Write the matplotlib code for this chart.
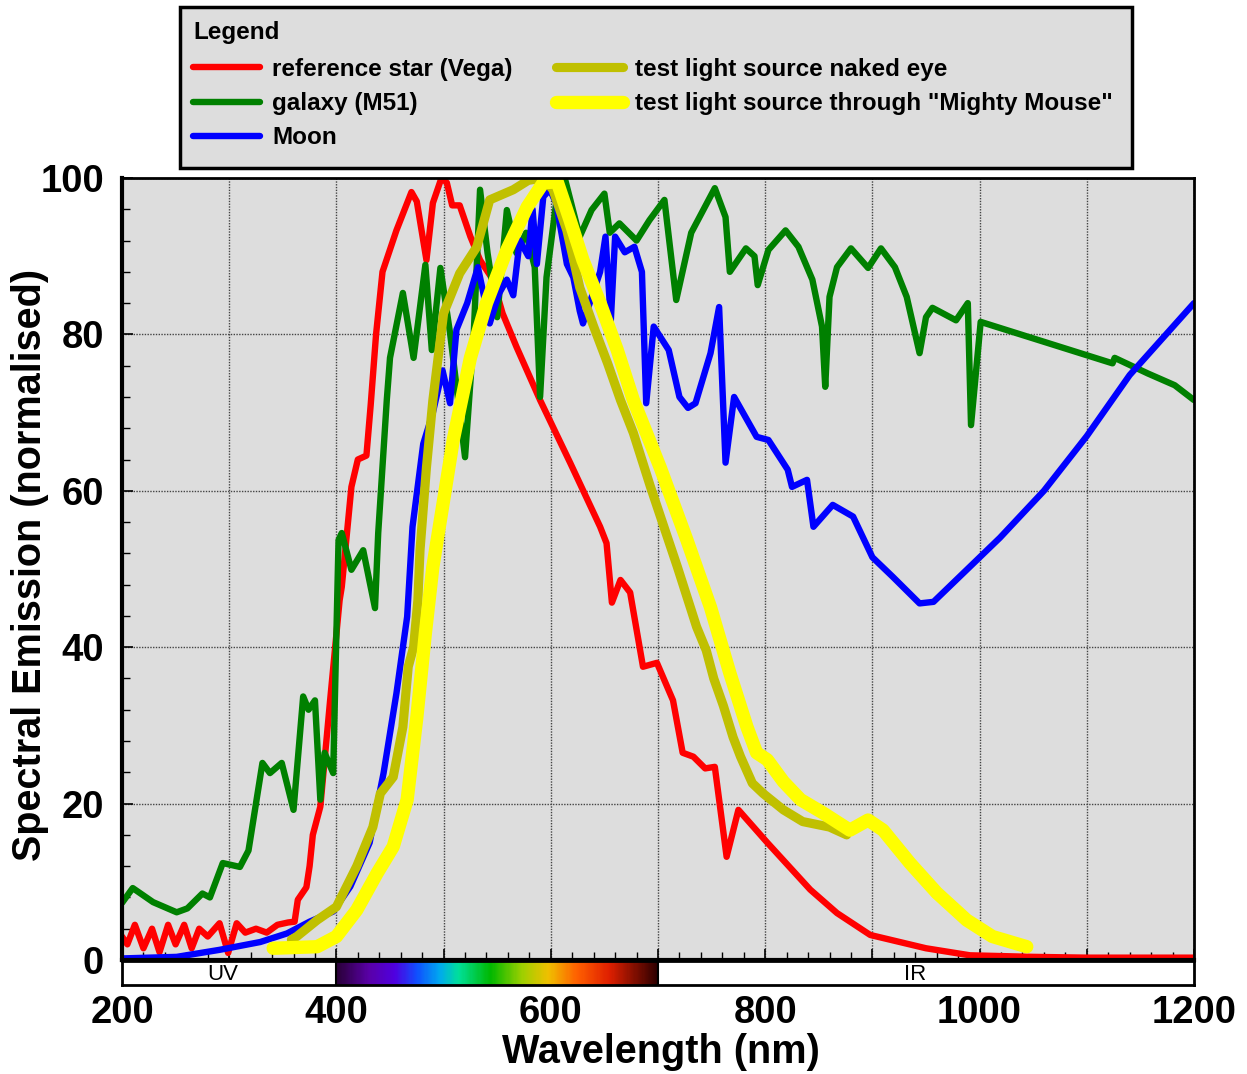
import numpy as np
import matplotlib
matplotlib.use('Agg')
import matplotlib.pyplot as plt
from matplotlib.colors import LinearSegmentedColormap
from matplotlib.patches import Rectangle
from matplotlib.ticker import MultipleLocator

plt.rcParams['font.family'] = ['Liberation Sans', 'DejaVu Sans']
plt.rcParams['font.weight'] = 'bold'

# ---- data (wavelength in nm, emission normalised to 100) ----
vega_wl = [200, 205, 212, 220, 228, 235, 243, 250, 258, 265, 272, 280, 291, 299, 307, 315,
           325, 335, 345, 355, 361, 364, 372, 375, 378, 385, 394, 403, 405, 414, 420, 428,
           432, 437, 443, 456, 470, 475, 484, 490, 498, 503, 508, 515, 525, 534, 546, 555,
           568, 590, 618, 646, 652, 657, 665, 674, 686, 699, 714, 723, 733, 744, 753, 764,
           775, 802, 842, 867, 898, 950, 991, 1050, 1100, 1200]
vega_val = [3, 2, 4.5, 1.5, 4, 1, 4.5, 2, 4.5, 1.5, 4, 3, 4.7, 0.9, 4.7, 3.5,
            4, 3.5, 4.5, 4.8, 4.9, 7.7, 9.3, 12, 16, 19.6, 33, 46, 47.7, 60.5, 64, 64.5,
            71, 80, 88, 93.3, 98.2, 97, 89.5, 96.8, 100, 99.4, 96.5, 96.5, 92.5, 89.5, 87, 82.7,
            78.4, 71.6, 63.6, 55.4, 53.3, 45.7, 48.6, 47, 37.5, 38, 33.2, 26.5, 26, 24.5, 24.7, 13.2,
            19.2, 15, 9, 6, 3.2, 1.5, 0.6, 0.4, 0.3, 0.3]

m51_wl = [200, 210, 229, 251, 261, 275, 282, 294, 310, 318, 331, 338, 349, 360, 369, 374,
          380, 385, 389, 397, 402, 405, 414, 425, 436, 439, 447, 450, 462, 472, 483, 489,
          497, 506, 520, 528, 534, 541, 550, 559, 568, 577, 585, 590, 596, 605, 613, 627,
          638, 650, 655, 664, 680, 692, 706, 717, 731, 753, 763, 767, 782, 790, 793, 803,
          819, 831, 844, 853, 856, 860, 867, 880, 896, 908, 921, 932, 944, 950, 956, 978,
          989, 992, 1001, 1124, 1126, 1157, 1182, 1200]
m51_val = [7.3, 9.2, 7.4, 6.1, 6.6, 8.5, 8, 12.4, 11.9, 14, 25.2, 23.9, 25.2, 19.2, 33.7, 32,
           33.2, 20.5, 26.5, 23.9, 53.7, 54.6, 49.9, 52.4, 45, 54.6, 71.6, 77, 85.3, 77, 88.9, 78,
           88.5, 80.2, 64.3, 79.7, 98.5, 90.4, 82.2, 95.9, 90.4, 93, 88.6, 72, 87.3, 96.8, 100, 92.5,
           95.9, 98, 93, 94.2, 92, 94.6, 97.2, 84.4, 93, 98.7, 95, 88, 91, 90, 86.3, 90.8,
           93.3, 91.2, 87, 81, 73.3, 84.8, 88.6, 91, 88.5, 91, 88.6, 84.8, 77.6, 82.2, 83.4, 81.8,
           84, 68.4, 81.6, 76.3, 77, 75, 73.5, 71.6]

moon_wl = [200, 251, 291, 329, 354, 375, 397, 413, 431, 444, 456, 466, 471, 481, 490, 499,
           506, 512, 522, 532, 543, 552, 559, 565, 571, 579, 583, 587, 593, 599, 605, 615,
           621, 627, 630, 646, 651, 656, 660, 669, 678, 685, 689, 696, 710, 720, 728, 735,
           749, 757, 763, 771, 792, 803, 821, 825, 839, 845, 863, 882, 900, 919, 944, 957,
           988, 1019, 1060, 1100, 1140, 1200]
moon_val = [0.2, 0.4, 1.3, 2.3, 3.4, 4.9, 6.2, 9.4, 15, 23.9, 34.1, 43.9, 55.4, 66, 70, 75.4,
            71.2, 80.6, 84, 88.6, 81.4, 85.3, 87, 85, 92, 90, 96, 89, 97.6, 98.5, 96.8, 89,
            87.3, 83, 81.4, 88, 92.5, 81.8, 92.5, 90.5, 91.2, 88, 71.2, 81, 78, 72, 70.6, 71.2,
            77.6, 83.5, 63.6, 72, 66.9, 66.5, 62.7, 60.5, 61.4, 55.4, 58.2, 56.7, 51.5, 49, 45.6, 45.8,
            49.9, 54, 60, 67, 74.8, 84]

naked_wl = [358, 363, 382, 400, 419, 434, 441, 453, 462, 467, 472, 476, 478, 484, 490, 500,
            515, 531, 543, 565, 579, 593, 602, 615, 627, 640, 653, 665, 677, 693, 718, 736,
            745, 752, 761, 770, 777, 788, 798, 817, 835, 860, 876]
naked_val = [2.6, 3, 5.1, 6.8, 12, 17, 21.3, 23.4, 29.8, 37.5, 40, 46, 52.4, 63, 71.6, 82.7,
             87.8, 91.2, 97.2, 98.5, 99.7, 100, 98.5, 93.3, 86, 81, 76.3, 71.6, 67.4, 60.5, 50.3, 42.6,
             39.6, 36, 32.5, 28.5, 26, 22.6, 21.3, 19.2, 17.7, 17, 16]

mouse_wl = [341, 382, 400, 419, 438, 453, 466, 475, 483, 490, 500, 509, 525, 540, 559, 578,
            593, 606, 618, 630, 646, 662, 677, 702, 727, 749, 767, 783, 792, 802, 817, 833,
            854, 879, 896, 910, 935, 960, 988, 1012, 1044]
mouse_val = [1.5, 1.7, 3, 6.4, 11.1, 14.5, 20.5, 31, 41.8, 50.3, 58.8, 66.5, 77, 84, 90.8, 96.3,
             99.4, 99.5, 94.6, 89.5, 84, 78, 71.6, 63, 53.7, 45.1, 36.7, 29.8, 26.5, 25.6, 22.8, 20.5,
             18.8, 16.6, 17.9, 16.6, 12.4, 8.6, 5.1, 3, 1.7]

labels = ['reference star (Vega)', 'galaxy (M51)', 'Moon',
          'test light source naked eye', 'test light source through "Mighty Mouse"']

fig = plt.figure(figsize=(12.47, 10.74), dpi=100)
ax = fig.add_axes([122 / 1247, 114 / 1074, 1072 / 1247, 782 / 1074])

series = [
    (vega_wl, vega_val, '#ff0000', 4.6),
    (m51_wl, m51_val, '#008000', 4.6),
    (moon_wl, moon_val, '#0000ff', 4.6),
    (naked_wl, naked_val, '#c0c000', 6.6),
    (mouse_wl, mouse_val, '#ffff00', 9.6),
]
for (wl, val, col, lw), lab in zip(series, labels):
    ax.plot(wl, val, color=col, lw=lw, label=lab,
            solid_capstyle='round', solid_joinstyle='round')

ax.set_xlim(200, 1200)
ax.set_ylim(0, 100)
ax.set_facecolor('#dddddd')

xt = np.arange(200, 1201, 100)
ax.set_xticks(xt)
ax.set_xticklabels([str(v) if v % 200 == 0 else '' for v in xt])
ax.xaxis.set_minor_locator(MultipleLocator(20))
ax.yaxis.set_major_locator(MultipleLocator(20))
ax.yaxis.set_minor_locator(MultipleLocator(4))
ax.grid(True, which='major', color='#444444', linestyle=(0, (1, 1)), linewidth=1)
ax.tick_params(which='both', direction='in', top=False, right=False, color='black')
ax.tick_params(which='major', length=8, width=1.2, labelsize=27.5)
ax.tick_params(which='minor', length=6, width=1)
ax.tick_params(axis='x', pad=25)
ax.tick_params(axis='y', pad=13)
for s in ax.spines.values():
    s.set_linewidth(2)
ax.spines['left'].set_linewidth(3)
ax.spines['bottom'].set_linewidth(3)

fig.text(661 / 1247, 1 - 1052 / 1074, 'Wavelength (nm)', fontsize=28.5,
         ha='center', va='center')
fig.text(30 / 1247, 1 - 565 / 1074, 'Spectral Emission (normalised)', fontsize=28.5,
         ha='center', va='center', rotation=90)

# visible spectrum strip under the axis
spec_cmap = LinearSegmentedColormap.from_list('spec', [
    (0.00, '#2a0038'), (0.10, '#5a00a8'), (0.18, '#5000e0'), (0.25, '#1050ff'),
    (0.32, '#00a8f0'), (0.38, '#00e09a'), (0.48, '#00b800'), (0.58, '#a0d000'),
    (0.66, '#f0c000'), (0.75, '#ff6000'), (0.85, '#e02000'), (1.00, '#300000')])
bar_ax = fig.add_axes([122 / 1247, (1074 - 985) / 1074, 1072 / 1247, 24 / 1074])
bar_ax.set_xlim(200, 1200)
bar_ax.set_ylim(0, 1)
bar_ax.imshow(np.linspace(0, 1, 300)[None, :], extent=(400, 700, 0, 1),
              aspect='auto', cmap=spec_cmap)
bar_ax.axvline(400, color='black', lw=1.5)
bar_ax.axvline(700, color='black', lw=1.5)
bar_ax.text(294, 0.42, 'UV', ha='center', va='center', fontsize=16, weight='normal')
bar_ax.text(940, 0.42, 'IR', ha='center', va='center', fontsize=16, weight='normal')
bar_ax.set_xticks([])
bar_ax.set_yticks([])
for s in bar_ax.spines.values():
    s.set_linewidth(2)

# legend box drawn by hand, entries from the plotted lines
fig.patches.append(Rectangle((180 / 1247, 1 - 168 / 1074), 952 / 1247, 161 / 1074,
                             transform=fig.transFigure, facecolor='#dddddd',
                             edgecolor='black', lw=2.5, zorder=1))
leg_font = dict(weight='bold', size=17.5)
leg = fig.legend(loc='upper left', bbox_to_anchor=(193 / 1247, 1 - 21 / 1074),
                 ncol=2, title='Legend', alignment='left',
                 prop=leg_font, title_fontproperties=leg_font, frameon=False,
                 handlelength=2.75, handletextpad=0.5, labelspacing=0.46,
                 columnspacing=1.8, borderpad=0, borderaxespad=0)
leg._legend_box.sep = 10
leg.set_zorder(5)

fig.savefig('out.png', dpi=100)
